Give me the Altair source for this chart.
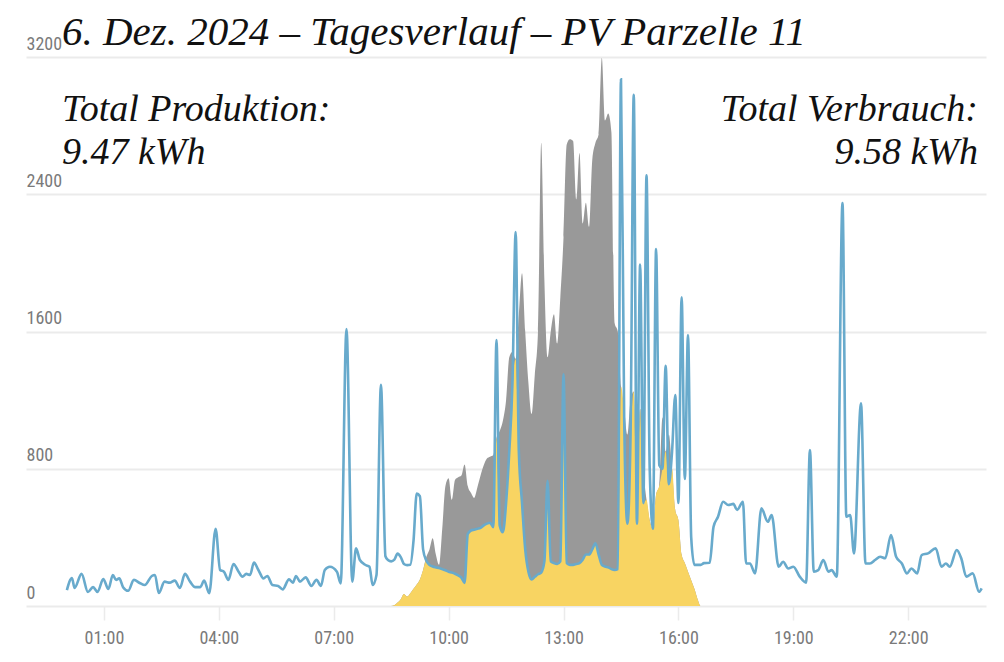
import altair as alt
import pandas as pd

# ---------------- data ----------------
morning_times = ["00:02","00:10","00:14","00:25","00:35","00:43","00:50","00:59","01:07","01:14",
                 "01:19","01:24","01:30","01:38","01:47","01:56","02:04","02:15","02:20","02:26",
                 "02:35","02:43","02:51","02:59","03:07","03:15","03:23","03:31","03:37","03:45",
                 "03:55","04:02","04:08","04:15","04:23","04:31","04:37","04:43","04:49","04:55",
                 "05:02","05:10","05:16","05:24","05:33","05:40","05:50","05:56","06:01","06:07",
                 "06:16","06:25","06:33","06:40","06:46","06:54","07:05","07:11","07:20","07:29",
                 "07:35","07:41","07:50","07:56","08:01","08:07","08:14","08:21","08:25"]
morning_cons = [93,163,105,187,82,110,82,157,99,181,
                152,161,110,89,152,134,122,175,181,76,
                142,136,148,105,187,142,110,110,148,74,
                450,210,200,152,245,200,171,187,181,253,
                210,161,175,122,117,97,155,136,175,142,
                167,117,152,117,210,229,200,132,1615,142,
                336,268,239,229,122,180,1289,290,268]

# daytime: 5-minute readings from 08:30 to 16:40
day_start = "08:30"
day_cons = [260,270,305,285,245,238,240,380,655,640,
            330,265,240,230,225,222,215,208,200,195,
            188,178,165,135,420,440,445,450,455,470,
            480,485,460,1550,470,430,600,900,1300,2180,
            900,600,330,200,155,170,185,195,260,730,
            260,250,245,260,1350,250,240,240,245,250,
            270,300,300,330,365,300,240,230,225,215,
            210,215,3070,1100,480,1000,2980,480,1990,600,
            2510,800,450,2080,820,800,1400,710,900,1230,
            600,1800,740,1580,400,240,240,240,250]
day_prod = [0,5,20,40,70,55,75,100,125,155,
            210,285,330,395,300,240,450,700,745,620,
            735,750,760,825,700,660,630,690,760,820,
            860,870,880,980,1020,1080,1200,1450,1480,1440,
            1700,1940,1600,1300,1120,1350,1600,2700,1900,1450,
            1600,1700,1530,1800,2150,2690,2720,2710,2370,2640,
            2230,2350,2210,2600,2700,2750,3195,2830,2870,2760,
            1650,1600,1280,1150,1000,1200,1250,700,1150,800,
            620,500,450,650,700,1100,900,1000,800,560,
            500,300,250,200,150,100,40,0,0]

evening_times = ["16:49","16:55","17:02","17:10","17:18","17:26","17:32","17:41","17:46","17:52",
                 "18:00","18:10","18:20","18:26","18:37","18:44","18:52","19:00","19:10","19:20",
                 "19:26","19:32","19:39","19:47","19:55","20:00","20:08","20:17","20:23","20:29",
                 "20:35","20:46","20:53","21:00","21:08","21:16","21:24","21:33","21:41","21:50",
                 "21:58","22:05","22:14","22:21","22:31","22:43","22:52","22:59","23:05","23:16",
                 "23:23","23:31","23:41","23:51","23:55"]
evening_cons = [252,462,520,608,589,595,560,608,248,248,
                190,569,491,530,229,258,219,229,171,136,
                909,200,209,268,200,209,171,2348,520,530,
                307,1181,248,248,268,287,278,414,287,248,
                190,219,190,297,307,336,229,248,229,326,
                278,171,190,83,103]

x_ticks = [1, 4, 7, 10, 13, 16, 19, 22]
y_ticks = [0, 800, 1600, 2400, 3200]

title_text = "6. Dez. 2024 – Tagesverlauf – PV Parzelle 11"
prod_label = "Total Produktion:\n9.47 kWh"
cons_label = "Total Verbrauch:\n9.58 kWh"

# ---------------- build tables ----------------
def hours(s):
    h, m = s.split(":")
    return int(h) + int(m) / 60.0

h0, m0 = (int(v) for v in day_start.split(":"))
day_times = []
for i in range(len(day_cons)):
    mm = h0 * 60 + m0 + 5 * i
    day_times.append(f"{mm // 60:02d}:{mm % 60:02d}")

cons_df = pd.DataFrame({
    "time": morning_times + day_times + evening_times,
    "watt": morning_cons + day_cons + evening_cons,
})
cons_df["h"] = cons_df["time"].map(hours)

day_df = pd.DataFrame({"time": day_times, "prod": day_prod, "cons": day_cons})
day_df["h"] = day_df["time"].map(hours)
day_df["self"] = day_df[["prod", "cons"]].min(axis=1)

# ---------------- chart ----------------
PLOT_W, PLOT_H = 960, 549
x_scale = alt.Scale(domain=[-1.034, 24.03], nice=False, zero=False)
y_scale = alt.Scale(domain=[0, 3200], nice=False)

label_font = "Liberation Sans Narrow, Roboto Condensed, Roboto, sans-serif"

x_axis = alt.Axis(values=x_ticks, grid=False, domain=False, ticks=True, tickSize=14,
                  tickColor="#ebebeb", tickWidth=1.5, labelPadding=9,
                  labelExpr="(datum.value < 10 ? '0' : '') + datum.value + ':00'",
                  labelFont=label_font, labelFontSize=18, labelColor="#7a7a7a",
                  title=None)
y_axis = alt.Axis(values=y_ticks, format="d", grid=True, gridColor="#ebebeb", gridWidth=2,
                  domain=False, ticks=False, tickSize=0, labelPadding=0,
                  labelAlign="left", labelBaseline="bottom", labelOffset=-4,
                  labelFont=label_font, labelFontSize=18, labelColor="#7a7a7a",
                  title=None)

prod_area = alt.Chart(day_df).mark_area(interpolate="monotone", color="#999999").encode(
    x=alt.X("h:Q", scale=x_scale, axis=x_axis),
    y=alt.Y("prod:Q", scale=y_scale, axis=y_axis),
)
self_area = alt.Chart(day_df).mark_area(interpolate="monotone", color="#f8d462").encode(
    x=alt.X("h:Q", scale=x_scale),
    y=alt.Y("self:Q", scale=y_scale),
)
cons_line = alt.Chart(cons_df).mark_line(interpolate="monotone", color="#68aacc",
                                         strokeWidth=2.6).encode(
    x=alt.X("h:Q", scale=x_scale),
    y=alt.Y("watt:Q", scale=y_scale),
)

serif = "Liberation Serif"
def text_layer(txt, x, y, align, size, line_h):
    return alt.Chart(pd.DataFrame({"t": [txt]})).mark_text(
        font=serif, fontStyle="italic", fontSize=size, color="#111111",
        align=align, baseline="alphabetic", lineBreak="\n", lineHeight=line_h).encode(
        text="t:N", x=alt.value(x), y=alt.value(y))

texts = (text_layer(title_text, 36, -12, "left", 41, 41)
         + text_layer(prod_label, 36, 64, "left", 38, 43)
         + text_layer(cons_label, 952, 64, "right", 38, 43))

chart = alt.layer(prod_area, self_area, cons_line, texts).properties(
    width=PLOT_W, height=PLOT_H,
    autosize=alt.AutoSizeParams(type="none"),
    padding={"left": 18, "top": 49, "right": 10, "bottom": 48},
    background="#ffffff",
).configure_view(stroke=None)

chart.save("out.html", embed_options={"renderer": "svg", "actions": False})
